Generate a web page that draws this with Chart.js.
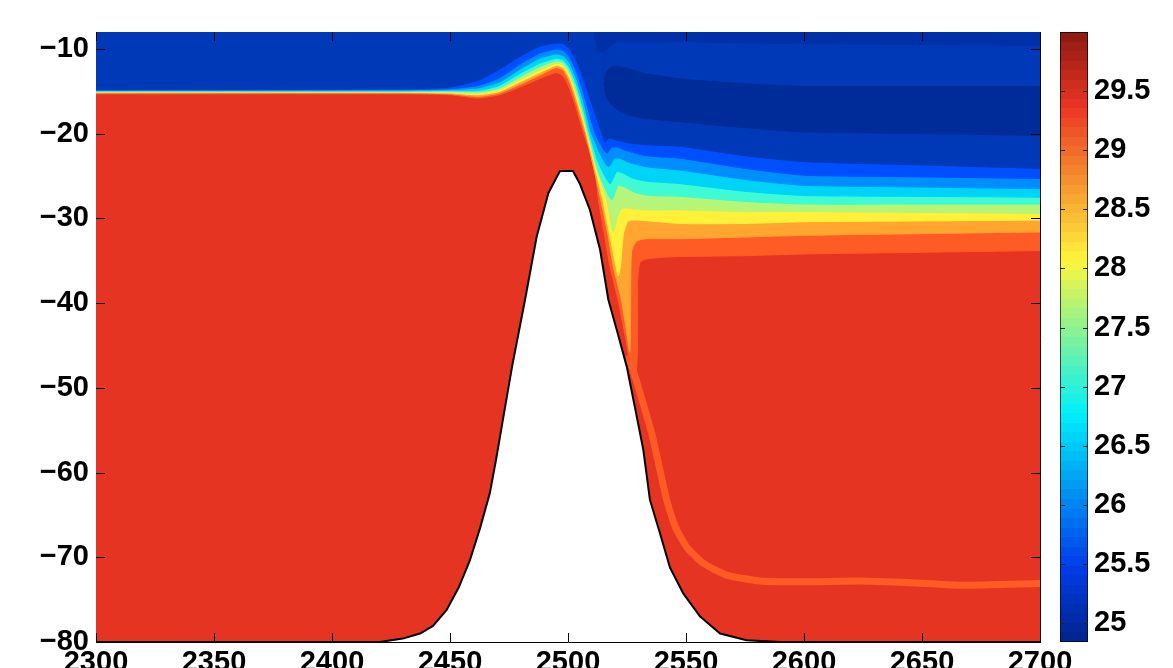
<!DOCTYPE html>
<html>
<head>
<meta charset="utf-8">
<title>Section over seamount</title>
<script src="https://cdn.jsdelivr.net/npm/chart.js@4.4.1/dist/chart.umd.min.js"></script>
<style>
  html, body { margin: 0; padding: 0; background: #fff; overflow: hidden; }
  #wrap { position: relative; width: 1173px; height: 668px; overflow: hidden; }
  #main { position: absolute; left: 0; top: 0; }
  #cbar { position: absolute; left: 1050px; top: 0; }
</style>
</head>
<body>
<div id="wrap">
  <canvas id="main" width="1173" height="700"></canvas>
  <canvas id="cbar" width="123" height="700"></canvas>
</div>
<script>
// axis limits and ticks
const xRange = [2300, 2700];
const yRange = [-80, -8];
const xTicks = [2300, 2350, 2400, 2450, 2500, 2550, 2600, 2650, 2700];
const yTicks = [-80, -70, -60, -50, -40, -30, -20, -10];
const cbRange = [24.84, 30.0];
const cbTicks = [25, 25.5, 26, 26.5, 27, 27.5, 28, 28.5, 29, 29.5];

// contour boundaries [x, depth]; the band above each one gets the colour named after it
const isoOrangeRed = [[2300,-15.3],[2430,-15.3],[2450,-15.4],[2462,-15.8],[2471,-15.4],[2479.6,-14.5],[2488,-13.5],[2495,-12.8],[2498,-13.2],[2500.8,-14.8],[2503.7,-17.2],[2506.6,-19.96],[2509.3,-22.2],[2511.5,-24.6],[2512.9,-27.8],[2515.5,-32],[2517.8,-35.7],[2521.2,-39.6],[2524.3,-44],[2526.5,-47.3],[2528.5,-48.5],[2529.4,-46],[2529.6,-37],[2530.5,-35.2],[2533,-34.8],[2540,-34.6],[2547.5,-34.5],[2575,-34.4],[2600,-34.2],[2650,-34.0],[2700,-33.8]];
const isoOrange = [[2300,-15.2],[2430,-15.2],[2450,-15.3],[2462,-15.6],[2471,-15.2],[2479.6,-14.2],[2488,-13.1],[2495,-12.2],[2498,-12.5],[2500.8,-14.0],[2503.7,-16.5],[2506.6,-19.3],[2507.4,-19.96],[2510.5,-23.6],[2513.9,-27.8],[2517,-32],[2519.2,-35.7],[2522.6,-39.6],[2524.8,-43.3],[2526.2,-45.8],[2526.5,-42],[2526.6,-37],[2527,-33.8],[2529,-32.7],[2533,-32.4],[2547.5,-32.4],[2575,-32.2],[2600,-32.0],[2650,-31.8],[2700,-31.6]];
const isoYellow = [[2300,-15.1],[2430,-15.1],[2450,-15.2],[2462,-15.4],[2471,-15.0],[2479.6,-13.9],[2488,-12.8],[2495,-11.95],[2498,-12.2],[2500.8,-13.5],[2503.7,-15.9],[2506.6,-18.7],[2507.8,-19.96],[2511,-23.5],[2514.7,-27.8],[2518,-32.4],[2520.4,-35.7],[2521.3,-36.8],[2522.3,-35.5],[2523.5,-31.8],[2525.5,-30.3],[2530,-30.2],[2547.5,-30.6],[2575,-30.6],[2600,-30.4],[2650,-30.3],[2700,-30.2]];
const isoYellowGreen = [[2300,-15.05],[2430,-15.05],[2450,-15.1],[2462,-15.2],[2471,-14.8],[2479.6,-13.6],[2488,-12.5],[2495,-11.7],[2498,-11.9],[2500.8,-13.1],[2503.7,-15.4],[2506.6,-18.2],[2508.2,-19.96],[2512,-24.0],[2516.4,-27.8],[2519.2,-31.6],[2521,-29.8],[2522.8,-28.8],[2526,-28.8],[2533,-29.0],[2547.5,-29.0],[2575,-29.2],[2600,-29.2],[2650,-29.3],[2700,-29.4]];
const isoAqua = [[2300,-15.0],[2430,-15.0],[2450,-15.0],[2462,-15.05],[2471,-14.6],[2479.6,-13.3],[2488,-12.1],[2495,-11.4],[2498,-11.6],[2500.8,-12.7],[2503.7,-14.9],[2506.6,-17.7],[2508.6,-19.96],[2513.5,-25.0],[2518.5,-27.8],[2521.3,-26.1],[2524,-26.3],[2529,-27.0],[2535,-27.3],[2547.5,-27.4],[2575,-28.0],[2600,-28.3],[2650,-28.3],[2700,-28.3]];
const isoCyan = [[2300,-14.95],[2430,-14.95],[2450,-14.9],[2462,-14.9],[2471,-14.3],[2479.6,-12.9],[2488,-11.7],[2495,-11.1],[2498,-11.3],[2500.8,-12.3],[2503.7,-14.3],[2506.6,-17.1],[2509.1,-19.96],[2513,-23.5],[2517.8,-25.9],[2520.6,-24.5],[2523,-24.6],[2527,-25.2],[2533,-25.6],[2547.5,-25.9],[2575,-26.8],[2600,-27.3],[2650,-27.4],[2700,-27.5]];
const isoLightBlue = [[2300,-14.9],[2430,-14.85],[2450,-14.8],[2462,-14.6],[2471,-13.9],[2479.6,-12.4],[2488,-11.1],[2495,-10.6],[2498,-10.8],[2500.8,-11.7],[2503.7,-13.6],[2506.6,-16.2],[2510,-19.96],[2514,-22.6],[2517.1,-23.9],[2519.9,-22.9],[2522,-22.9],[2526,-23.4],[2533,-23.9],[2547.5,-24.3],[2575,-25.4],[2600,-26.1],[2650,-26.3],[2700,-26.5]];
const isoBlue = [[2300,-14.85],[2430,-14.8],[2450,-14.7],[2462,-14.3],[2471,-13.4],[2479.6,-11.8],[2488,-10.5],[2495,-10.0],[2498,-10.2],[2500.8,-11.0],[2503.7,-12.8],[2506.6,-15.2],[2511.5,-19.96],[2514.5,-21.6],[2516.4,-22.3],[2518.5,-21.6],[2521,-21.6],[2526,-22.1],[2533,-22.6],[2547.5,-22.9],[2575,-24.1],[2600,-24.9],[2650,-25.1],[2700,-25.3]];
const isoMidBlue = [[2300,-14.8],[2430,-14.7],[2450,-14.5],[2462,-13.7],[2471,-12.4],[2479.6,-10.9],[2488,-9.7],[2495,-9.3],[2498,-9.4],[2500.8,-10.0],[2503.7,-11.5],[2506.6,-13.5],[2510,-16.4],[2514.3,-19.9],[2515.7,-21.0],[2517.5,-20.5],[2520,-20.7],[2526,-21.1],[2533,-21.3],[2547.5,-21.5],[2575,-22.6],[2600,-23.3],[2650,-23.7],[2700,-24.1]];
// darker core in the upper layer east of the seamount, and the thin dark skin at the surface
const navyBottom = [[2515,-14.0],[2516.5,-15.8],[2519.5,-16.9],[2526,-17.8],[2533,-18.2],[2547.5,-18.6],[2575,-19.3],[2600,-19.8],[2650,-20.0],[2700,-20.2]];
const navyTop = [[2515,-14.0],[2516,-12.6],[2519,-12.0],[2524,-12.1],[2533,-12.8],[2547.5,-13.4],[2575,-14.0],[2600,-14.3],[2650,-14.3],[2700,-14.3]];
const surfaceSkin = [[2511,-8],[2512.5,-10.2],[2515,-10.4],[2520,-9.2],[2540,-9.1],[2575,-9.3],[2600,-9.4],[2650,-9.5],[2700,-9.6]];
// thin lighter filament hugging the east flank
const filament = [[2526,-46.5],[2528.8,-49],[2532,-52],[2535.5,-55.4],[2538.8,-59.5],[2541.8,-63.2],[2545.5,-66.4],[2550.3,-68.8],[2557.3,-70.7],[2567.2,-72.1],[2581.4,-72.8],[2600,-72.9],[2623.7,-72.8],[2645,-73.0],[2666,-73.3],[2700,-73.1]];
// seamount outline
const seamount = [[2300,-80],[2420.3,-80],[2430,-79.6],[2437.3,-79.0],[2442.8,-78.1],[2448.6,-76.2],[2453.8,-73.5],[2458.5,-70.3],[2462.8,-66.5],[2466.9,-62.4],[2469.5,-58.5],[2471.9,-54.6],[2476.3,-47.5],[2481.8,-39.6],[2486.7,-32.2],[2491.7,-27.0],[2496.6,-24.4],[2502.1,-24.4],[2505,-25.9],[2509.3,-29.0],[2513.6,-33.7],[2517.1,-39.6],[2521,-43.5],[2524.9,-47.5],[2528.5,-52.5],[2531.9,-57.3],[2534.7,-63.2],[2539,-67.2],[2543.2,-71.2],[2548.9,-74.3],[2556,-77.0],[2564.4,-79.0],[2575.7,-79.8],[2590,-80],[2700,-80]];

const bandColors = {
  red: '#E63422', orangeRed: '#FF5B25', orange: '#FFA530', yellow: '#FFF03A',
  yellowGreen: '#B5F577', aqua: '#3EFAD5', cyan: '#00D3F8', lightBlue: '#008EFF',
  blue: '#004FFF', midBlue: '#0039B8', navy: '#002C9A', skin: '#0030A8'
};
const cbStops = [[0, [0, 36, 140]], [0.125, [0, 60, 235]], [0.375, [0, 240, 250]], [0.625, [255, 245, 60]], [0.875, [235, 55, 35]], [1, [140, 25, 15]]];

Chart.defaults.font.family = '"Liberation Sans", Arial, Helvetica, sans-serif';
Chart.defaults.font.size = 29;
Chart.defaults.font.weight = 'bold';
Chart.defaults.color = '#000';

// MATLAB style tick marks pointing into the axes
const inwardTicks = {
    id: 'inwardTicks',
    afterDatasetsDraw(chart, args, opts) {
        const { ctx, chartArea: a, scales } = chart;
        const len = opts.len || 8;
        ctx.save();
        ctx.strokeStyle = opts.color || '#000';
        ctx.lineWidth = 1;
        ctx.beginPath();
        if (opts.x) {
            scales[opts.x].ticks.forEach(t => {
                const px = Math.round(scales[opts.x].getPixelForValue(t.value)) + 0.5;
                ctx.moveTo(px, a.bottom); ctx.lineTo(px, a.bottom - len);
                ctx.moveTo(px, a.top); ctx.lineTo(px, a.top + len);
            });
        }
        if (opts.y) {
            scales[opts.y].ticks.forEach(t => {
                const py = Math.round(scales[opts.y].getPixelForValue(t.value)) + 0.5;
                ctx.moveTo(a.left, py); ctx.lineTo(a.left + len, py);
                ctx.moveTo(a.right, py); ctx.lineTo(a.right - len, py);
            });
        }
        ctx.stroke();
        ctx.restore();
    }
};

function fixTicks(values) {
    return scale => { scale.ticks = values.map(v => ({ value: v })); };
}

const layers = [
    { data: [[xRange[0], yRange[0]], [xRange[1], yRange[0]]], color: bandColors.red, fill: 'end' },
    { data: isoOrangeRed, color: bandColors.orangeRed, fill: 'end' },
    { data: isoOrange, color: bandColors.orange, fill: 'end' },
    { data: isoYellow, color: bandColors.yellow, fill: 'end' },
    { data: isoYellowGreen, color: bandColors.yellowGreen, fill: 'end' },
    { data: isoAqua, color: bandColors.aqua, fill: 'end' },
    { data: isoCyan, color: bandColors.cyan, fill: 'end' },
    { data: isoLightBlue, color: bandColors.lightBlue, fill: 'end' },
    { data: isoBlue, color: bandColors.blue, fill: 'end' },
    { data: isoMidBlue, color: bandColors.midBlue, fill: 'end' },
    { data: navyBottom, color: bandColors.navy, fill: 'end' },
    { data: navyTop, color: bandColors.midBlue, fill: 'end' },
    { data: surfaceSkin, color: bandColors.skin, fill: 'end' },
    { data: filament, color: bandColors.orangeRed, fill: false, width: 7 },
    { data: seamount, color: '#ffffff', fill: 'start', border: '#000000', width: 2, tension: 0 }
];

// first layer is painted first, so it gets the highest order
const datasets = layers.map((l, i) => ({
    data: l.data,
    order: layers.length - i,
    fill: l.fill,
    backgroundColor: l.color,
    borderColor: l.border || l.color,
    borderWidth: l.width || 1,
    tension: l.tension !== undefined ? l.tension : 0.2,
    pointRadius: 0,
    borderCapStyle: 'round',
    borderJoinStyle: 'round'
}));

const hiddenEdge = (pos) => ({
    type: 'linear',
    position: pos,
    min: pos === 'top' ? xRange[0] : yRange[0],
    max: pos === 'top' ? xRange[1] : yRange[1],
    ticks: { display: false },
    grid: { display: false, drawTicks: false },
    border: { display: true, color: '#000', width: 1 },
    z: 1,
    afterFit: s => { if (pos === 'top') s.height = 0; else s.width = 0; s.paddingLeft = s.paddingRight = s.paddingTop = s.paddingBottom = 0; }
});

new Chart(document.getElementById('main'), {
    type: 'line',
    data: { datasets: datasets },
    plugins: [inwardTicks],
    options: {
        responsive: false,
        animation: false,
        events: [],
        layout: { padding: { left: 0, right: 133, top: 32, bottom: 0 } },
        plugins: {
            legend: { display: false },
            tooltip: { enabled: false },
            inwardTicks: { x: 'x', y: 'y', len: 9 }
        },
        scales: {
            x: {
                type: 'linear',
                min: xRange[0],
                max: xRange[1],
                afterBuildTicks: fixTicks(xTicks),
                ticks: { padding: 4, maxRotation: 0, autoSkip: false, callback: v => String(v) },
                grid: { display: false, drawTicks: false },
                border: { display: true, color: '#000', width: 1 },
                z: 1,
                afterFit: s => { s.height = 58; s.paddingLeft = 0; s.paddingRight = 0; }
            },
            y: {
                type: 'linear',
                min: yRange[0],
                max: yRange[1],
                afterBuildTicks: fixTicks(yTicks),
                ticks: { padding: 7, autoSkip: false, callback: v => (v < 0 ? '\u2212' : '') + Math.abs(v) },
                grid: { display: false, drawTicks: false },
                border: { display: true, color: '#000', width: 1 },
                z: 1,
                afterFit: s => { s.width = 96; s.paddingTop = 0; s.paddingBottom = 0; }
            },
            xTop: hiddenEdge('top'),
            yRight: hiddenEdge('right')
        }
    }
});

// colour bar
function cbColor(t) {
    for (let i = 1; i < cbStops.length; i++) {
        if (t <= cbStops[i][0]) {
            const [t0, c0] = cbStops[i - 1];
            const [t1, c1] = cbStops[i];
            const f = (t - t0) / (t1 - t0);
            const c = c0.map((v, k) => Math.round(v + (c1[k] - v) * f));
            return `rgb(${c[0]},${c[1]},${c[2]})`;
        }
    }
    return 'rgb(140,25,15)';
}

function cbGradient(context) {
    const chart = context.chart;
    const area = chart.chartArea;
    if (!area) return null;
    const g = chart.ctx.createLinearGradient(0, area.bottom, 0, area.top);
    const steps = 64;
    for (let i = 0; i < steps; i++) {
        const c = cbColor((i + 0.5) / steps);
        g.addColorStop(i / steps, c);
        g.addColorStop((i + 1) / steps, c);
    }
    return g;
}

new Chart(document.getElementById('cbar'), {
    type: 'bar',
    data: {
        labels: [''],
        datasets: [{
            data: [cbRange],
            backgroundColor: cbGradient,
            borderColor: '#000',
            borderWidth: 1,
            borderSkipped: false,
            barPercentage: 1,
            categoryPercentage: 1
        }]
    },
    plugins: [inwardTicks],
    options: {
        responsive: false,
        animation: false,
        events: [],
        layout: { padding: { left: 10, right: 0, top: 32, bottom: 58 } },
        plugins: {
            legend: { display: false },
            tooltip: { enabled: false },
            inwardTicks: { y: 'y', len: 5, color: '#222' }
        },
        scales: {
            x: { display: false },
            y: {
                position: 'right',
                min: cbRange[0],
                max: cbRange[1],
                afterBuildTicks: fixTicks(cbTicks),
                ticks: { padding: 6, autoSkip: false, callback: v => String(v) },
                grid: { display: false, drawTicks: false },
                border: { display: false },
                afterFit: s => { s.width = 85; s.paddingTop = 0; s.paddingBottom = 0; }
            }
        }
    }
});
</script>
</body>
</html>
